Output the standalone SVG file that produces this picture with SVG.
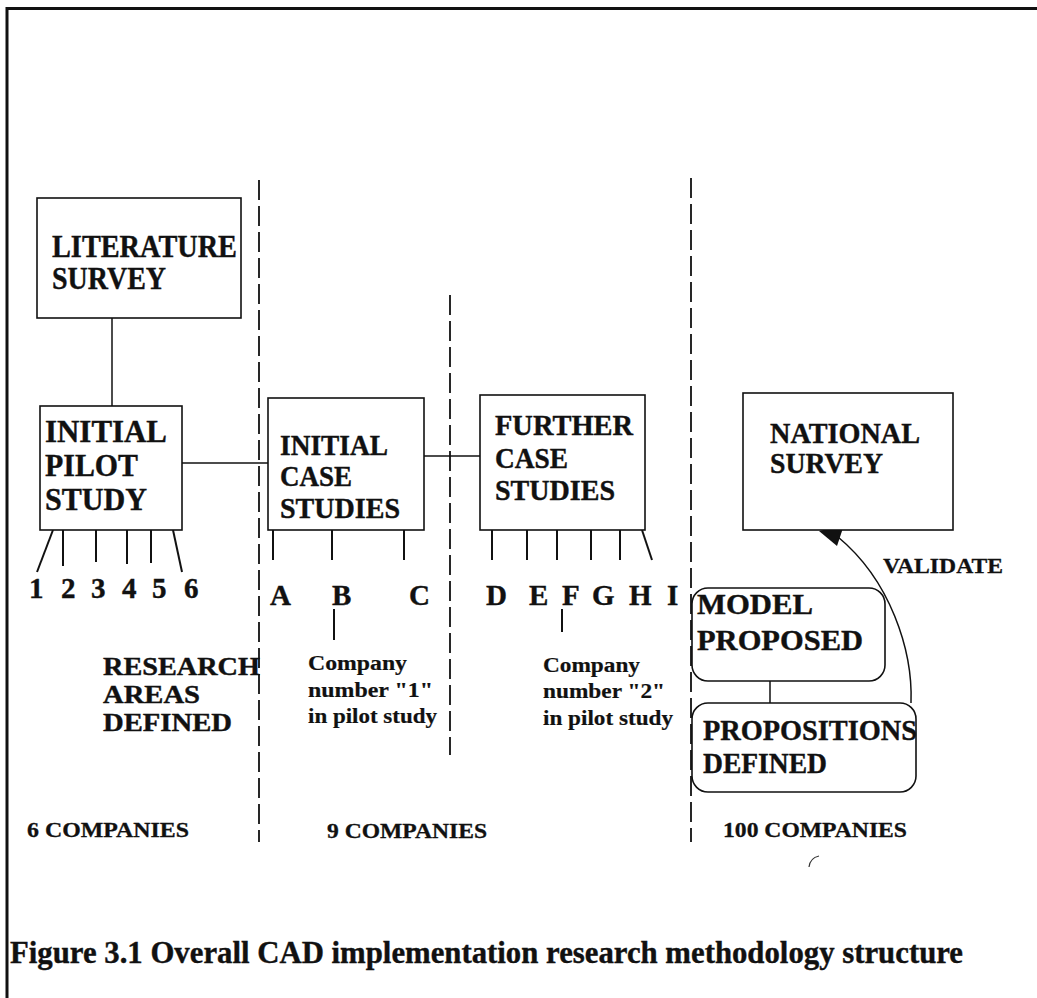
<svg xmlns="http://www.w3.org/2000/svg" width="1037" height="998" viewBox="0 0 1037 998">
  <defs>
    <style>
      .frame { fill: none; stroke: #111; stroke-width: 3; }
      .box { fill: #fff; stroke: #111; stroke-width: 1.6; }
      .link { fill: none; stroke: #111; stroke-width: 1.5; }
      .tick { fill: none; stroke: #111; stroke-width: 2; }
      .divider { fill: none; stroke: #111; stroke-width: 1.8; stroke-dasharray: 20 6; }
      text { font-family: "Liberation Serif", "Times New Roman", serif; font-weight: bold; fill: #111; stroke: #111; stroke-width: 0.4; }
      .title { font-size: 31px; }
      .label { font-size: 29px; }
      .mark { font-size: 29px; }
      .area { font-size: 25px; }
      .note { font-size: 20px; stroke-width: 0.2; }
      .count { font-size: 22px; stroke-width: 0.3; }
      .caption { font-size: 31px; }
    </style>
  </defs>

  <rect width="1037" height="998" fill="#fff"/>

  <!-- outer frame: left and top edges -->
  <path class="frame" d="M7,998 V8.5 H1037"/>

  <!-- phase dividers -->
  <g id="dividers">
    <line class="divider" x1="259" y1="180" x2="259" y2="842"/>
    <line class="divider" x1="450" y1="295" x2="450" y2="755"/>
    <line class="divider" x1="691" y1="178" x2="691" y2="842"/>
  </g>

  <!-- connectors -->
  <g id="connectors">
    <line class="link" x1="112" y1="318" x2="112" y2="406"/>
    <line class="link" x1="182" y1="463" x2="268" y2="463"/>
    <line class="link" x1="424" y1="456" x2="480" y2="456"/>
    <line class="link" x1="770" y1="681" x2="770" y2="703"/>
    <!-- validate arrow -->
    <path class="link" d="M911,703 C913,650 890,580 838,537"/>
    <path d="M819,531 L844,525 L837,546 Z" fill="#111"/>
    <!-- company pointers -->
    <line class="tick" x1="334" y1="609" x2="334" y2="640"/>
    <line class="tick" x1="562" y1="609" x2="562" y2="632"/>
  </g>

  <!-- pilot study areas 1..6 -->
  <g id="pilot-ticks">
    <line class="tick" x1="53" y1="530" x2="37" y2="572"/>
    <line class="tick" x1="63" y1="530" x2="63" y2="566"/>
    <line class="tick" x1="96" y1="530" x2="96" y2="562"/>
    <line class="tick" x1="127" y1="530" x2="127" y2="564"/>
    <line class="tick" x1="151" y1="530" x2="151" y2="563"/>
    <line class="tick" x1="173" y1="530" x2="182" y2="572"/>
  </g>

  <!-- initial case study companies A..C -->
  <g id="initial-ticks">
    <line class="tick" x1="273" y1="530" x2="273" y2="560"/>
    <line class="tick" x1="332" y1="530" x2="332" y2="560"/>
    <line class="tick" x1="404" y1="530" x2="404" y2="560"/>
  </g>

  <!-- further case study companies D..I -->
  <g id="further-ticks">
    <line class="tick" x1="492" y1="530" x2="492" y2="560"/>
    <line class="tick" x1="527" y1="530" x2="527" y2="560"/>
    <line class="tick" x1="557" y1="530" x2="557" y2="560"/>
    <line class="tick" x1="591" y1="530" x2="591" y2="560"/>
    <line class="tick" x1="620" y1="530" x2="620" y2="560"/>
    <line class="tick" x1="642" y1="530" x2="652" y2="560"/>
  </g>

  <g id="literature-survey">
    <rect class="box" x="37" y="198" width="204" height="120"/>
    <text class="title" x="52" y="257" textLength="185" lengthAdjust="spacingAndGlyphs">LITERATURE</text>
    <text class="title" x="52" y="289" textLength="114" lengthAdjust="spacingAndGlyphs">SURVEY</text>
  </g>

  <g id="initial-pilot-study">
    <rect class="box" x="40" y="406" width="142" height="124"/>
    <text class="title" x="45" y="442" textLength="122" lengthAdjust="spacingAndGlyphs">INITIAL</text>
    <text class="title" x="45" y="476" textLength="93" lengthAdjust="spacingAndGlyphs">PILOT</text>
    <text class="title" x="45" y="510" textLength="102" lengthAdjust="spacingAndGlyphs">STUDY</text>
  </g>

  <g id="initial-case-studies">
    <rect class="box" x="268" y="398" width="156" height="132"/>
    <text class="label" x="280" y="455" textLength="108" lengthAdjust="spacingAndGlyphs">INITIAL</text>
    <text class="label" x="280" y="486" textLength="72" lengthAdjust="spacingAndGlyphs">CASE</text>
    <text class="label" x="280" y="518" textLength="120" lengthAdjust="spacingAndGlyphs">STUDIES</text>
  </g>

  <g id="further-case-studies">
    <rect class="box" x="480" y="395" width="165" height="135"/>
    <text class="label" x="495" y="435" textLength="138" lengthAdjust="spacingAndGlyphs">FURTHER</text>
    <text class="label" x="495" y="468" textLength="73" lengthAdjust="spacingAndGlyphs">CASE</text>
    <text class="label" x="495" y="500" textLength="120" lengthAdjust="spacingAndGlyphs">STUDIES</text>
  </g>

  <g id="national-survey">
    <rect class="box" x="743" y="393" width="210" height="137"/>
    <text class="label" x="770" y="443" textLength="150" lengthAdjust="spacingAndGlyphs">NATIONAL</text>
    <text class="label" x="770" y="473" textLength="113" lengthAdjust="spacingAndGlyphs">SURVEY</text>
  </g>

  <g id="model-proposed">
    <rect class="box" x="692" y="588" width="193" height="93" rx="16"/>
    <text class="label" x="697" y="614" textLength="116" lengthAdjust="spacingAndGlyphs">MODEL</text>
    <text class="label" x="697" y="650" textLength="166" lengthAdjust="spacingAndGlyphs">PROPOSED</text>
  </g>

  <g id="propositions-defined">
    <rect class="box" x="692" y="703" width="224" height="89" rx="16"/>
    <text class="label" x="703" y="740" textLength="214" lengthAdjust="spacingAndGlyphs">PROPOSITIONS</text>
    <text class="label" x="703" y="773" textLength="124" lengthAdjust="spacingAndGlyphs">DEFINED</text>
  </g>

  <!-- area / company identifiers -->
  <g id="identifiers">
    <text class="mark" x="29" y="598">1</text>
    <text class="mark" x="61" y="598">2</text>
    <text class="mark" x="91" y="598">3</text>
    <text class="mark" x="122" y="598">4</text>
    <text class="mark" x="152" y="598">5</text>
    <text class="mark" x="184" y="598">6</text>
    <text class="mark" x="270" y="605">A</text>
    <text class="mark" x="332" y="605">B</text>
    <text class="mark" x="409" y="605">C</text>
    <text class="mark" x="486" y="605">D</text>
    <text class="mark" x="529" y="605">E</text>
    <text class="mark" x="562" y="605">F</text>
    <text class="mark" x="592" y="605">G</text>
    <text class="mark" x="629" y="605">H</text>
    <text class="mark" x="667" y="605">I</text>
  </g>

  <g id="annotations">
    <text class="area" x="103" y="675" textLength="157" lengthAdjust="spacingAndGlyphs">RESEARCH</text>
    <text class="area" x="103" y="703" textLength="97" lengthAdjust="spacingAndGlyphs">AREAS</text>
    <text class="area" x="103" y="731" textLength="129" lengthAdjust="spacingAndGlyphs">DEFINED</text>

    <text class="note" x="308" y="670" textLength="99" lengthAdjust="spacingAndGlyphs">Company</text>
    <text class="note" x="308" y="697" textLength="125" lengthAdjust="spacingAndGlyphs">number "1"</text>
    <text class="note" x="308" y="723" textLength="129" lengthAdjust="spacingAndGlyphs">in pilot study</text>

    <text class="note" x="543" y="672" textLength="97" lengthAdjust="spacingAndGlyphs">Company</text>
    <text class="note" x="543" y="698" textLength="122" lengthAdjust="spacingAndGlyphs">number "2"</text>
    <text class="note" x="543" y="725" textLength="130" lengthAdjust="spacingAndGlyphs">in pilot study</text>

    <text class="count" x="883" y="573" textLength="120" lengthAdjust="spacingAndGlyphs">VALIDATE</text>

    <text class="count" x="27" y="837" textLength="162" lengthAdjust="spacingAndGlyphs">6 COMPANIES</text>
    <text class="count" x="327" y="838" textLength="160" lengthAdjust="spacingAndGlyphs">9 COMPANIES</text>
    <text class="count" x="723" y="837" textLength="184" lengthAdjust="spacingAndGlyphs">100 COMPANIES</text>

    <!-- small pen stroke -->
    <path d="M809,867 Q810,858 819,856" fill="none" stroke="#333" stroke-width="1.2"/>
  </g>

  <text class="caption" x="10" y="963" textLength="953" lengthAdjust="spacingAndGlyphs">Figure 3.1 Overall CAD implementation research methodology structure</text>
</svg>
